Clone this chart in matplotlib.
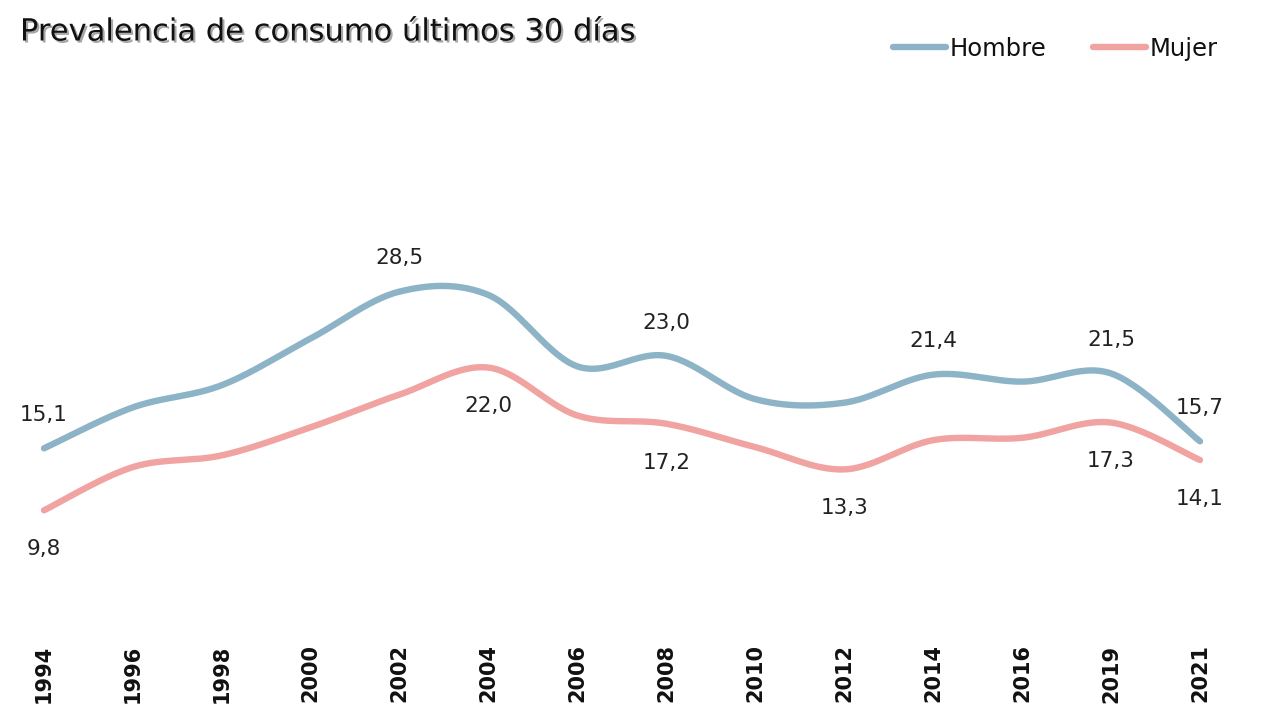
import numpy as np
import matplotlib
matplotlib.use("Agg")
import matplotlib.pyplot as plt
import matplotlib.patheffects as pe

years = ["1994", "1996", "1998", "2000", "2002", "2004", "2006", "2008",
         "2010", "2012", "2014", "2016", "2019", "2021"]
hombre = [15.1, 18.6, 20.5, 24.5, 28.5, 28.2, 22.1, 23.0, 19.3, 19.0, 21.4, 20.8, 21.5, 15.7]
mujer = [9.8, 13.5, 14.5, 16.9, 19.7, 22.0, 17.9, 17.2, 15.2, 13.3, 15.8, 16.0, 17.3, 14.1]
hombre_labels = [0, 4, 7, 10, 12, 13]
mujer_labels = [0, 5, 7, 9, 12, 13]

c_h = "#8DB3C7"
c_m = "#F0A3A0"


def smooth(xs, ys, n=30):
    p = np.column_stack([xs, ys]).astype(float)
    out = []
    for i in range(len(p) - 1):
        p0 = p[i - 1] if i > 0 else p[i]
        p1 = p[i]
        p2 = p[i + 1]
        p3 = p[i + 2] if i + 2 < len(p) else p[i + 1]
        c1 = p1 + (p2 - p0) / 6.0
        c2 = p2 - (p3 - p1) / 6.0
        t = np.linspace(0, 1, n)[:, None]
        seg = ((1 - t) ** 3) * p1 + 3 * ((1 - t) ** 2) * t * c1 + 3 * (1 - t) * t ** 2 * c2 + t ** 3 * p2
        out.append(seg if i == 0 else seg[1:])
    s = np.vstack(out)
    return s[:, 0], s[:, 1]


fig = plt.figure(figsize=(12.8, 7.2), dpi=100)
ax = fig.add_axes([44 / 1280, 95 / 720, (1200 - 44) / 1280, 468 / 720])
x = np.arange(len(years))

for vals, col, lab in [(hombre, c_h, "Hombre"), (mujer, c_m, "Mujer")]:
    sx, sy = smooth(x, vals)
    ax.plot(sx, sy, color=col, lw=4.6, solid_capstyle="round", label=lab, clip_on=False)

for i in hombre_labels:
    ax.annotate(f"{hombre[i]:.1f}".replace(".", ","), (x[i], hombre[i]), xytext=(0, 24),
                textcoords="offset points", ha="center", va="center", fontsize=15.5, color="#222222")
for i in mujer_labels:
    ax.annotate(f"{mujer[i]:.1f}".replace(".", ","), (x[i], mujer[i]), xytext=(0, -28),
                textcoords="offset points", ha="center", va="center", fontsize=15.5, color="#222222")

ax.set_xlim(0, len(years) - 1)
ax.set_ylim(0, 40)
ax.set_xticks(x)
ax.set_xticklabels(years, rotation=90, fontsize=15, fontweight="bold", color="#111111")
ax.tick_params(axis="x", length=0, pad=14)
ax.set_yticks([])
for s in ax.spines.values():
    s.set_visible(False)

fig.text(20 / 1280, 1 - 32 / 720, "Prevalencia de consumo últimos 30 días", fontsize=22,
         va="center", ha="left", color="#111111",
         path_effects=[pe.withSimplePatchShadow(offset=(1.5, -1.5), alpha=0.35)])

leg = fig.legend(loc="center right", bbox_to_anchor=(1240 / 1280, 1 - 49 / 720), ncol=2,
                 frameon=False, fontsize=17.5, handlelength=2.2, handletextpad=0.15,
                 columnspacing=1.9)
for t in leg.get_texts():
    t.set_color("#111111")

fig.savefig("out.png", dpi=100)
